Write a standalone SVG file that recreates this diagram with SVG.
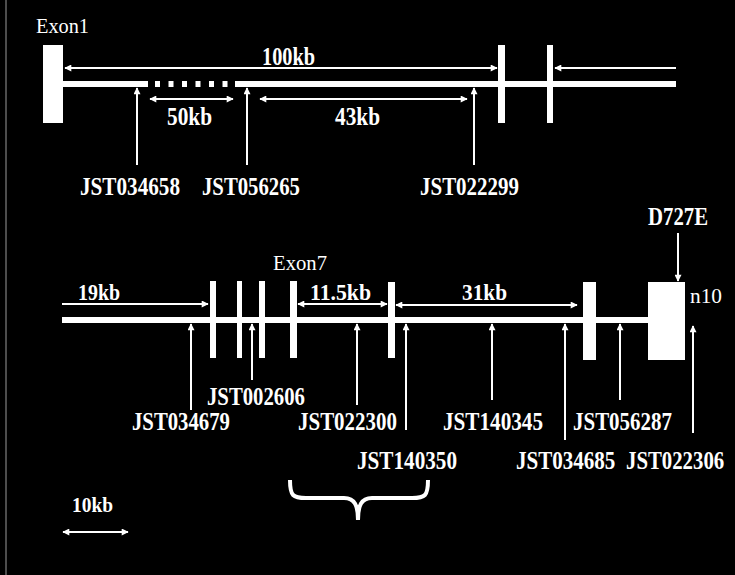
<svg xmlns="http://www.w3.org/2000/svg" width="735" height="575" viewBox="0 0 735 575">
<defs>
<style>
.b{font-family:"Liberation Serif","Times New Roman",serif;font-weight:bold;fill:#fff;font-size:26px}
.m{font-size:23px}
.s{font-size:22px}
.r{font-family:"Liberation Serif","Times New Roman",serif;font-weight:normal;fill:#fff;font-size:22px}
.dim{stroke:#fff;stroke-width:2;fill:none}
.ex{fill:#fff}
</style>
<marker id="ah" viewBox="0 0 10 10" refX="9" refY="5" markerWidth="8" markerHeight="7" markerUnits="userSpaceOnUse" orient="auto-start-reverse">
<path d="M0,0 L10,5 L0,10 Z" fill="#fff"/>
</marker>
</defs>
<rect x="0" y="0" width="735" height="575" fill="#000"/>
<line x1="6" y1="0" x2="6" y2="575" stroke="#9a9a9a" stroke-width="1"/>

<g id="top-gene">
<rect class="ex" x="63" y="81" width="85" height="6"/>
<line x1="155" y1="84" x2="232" y2="84" stroke="#fff" stroke-width="6" stroke-dasharray="5 8.5"/>
<rect class="ex" x="235" y="81" width="441" height="6"/>
<rect id="exon1-box" class="ex" x="43" y="45" width="20" height="78"/>
<rect class="ex" x="498" y="45" width="7" height="78"/>
<rect class="ex" x="547" y="45" width="6" height="78"/>
</g>
<g id="bottom-gene">
<rect class="ex" x="62" y="317" width="586" height="6"/>
<rect class="ex" x="210" y="281" width="6" height="77"/>
<rect class="ex" x="237" y="281" width="5" height="77"/>
<rect class="ex" x="259" y="281" width="6" height="77"/>
<rect class="ex" x="290" y="281" width="7" height="77"/>
<rect class="ex" x="388" y="282" width="7" height="76"/>
<rect class="ex" x="583" y="282" width="13" height="78"/>
<rect class="ex" x="648" y="282" width="37" height="78"/>
</g>

<g id="connectors">
<line class="dim" x1="65" y1="68" x2="497" y2="68" marker-start="url(#ah)" marker-end="url(#ah)"/>
<line class="dim" x1="555" y1="68" x2="676" y2="68" marker-start="url(#ah)"/>
<line class="dim" x1="150" y1="99" x2="233" y2="99" marker-start="url(#ah)" marker-end="url(#ah)"/>
<line class="dim" x1="260" y1="99" x2="467" y2="99" marker-start="url(#ah)" marker-end="url(#ah)"/>
<line class="dim" x1="137" y1="165" x2="137" y2="88" marker-end="url(#ah)"/>
<line class="dim" x1="247" y1="165" x2="247" y2="88" marker-end="url(#ah)"/>
<line class="dim" x1="474" y1="165" x2="474" y2="88" marker-end="url(#ah)"/>

<line class="dim" x1="62" y1="304" x2="208" y2="304" marker-end="url(#ah)"/>
<line class="dim" x1="298" y1="304" x2="387" y2="304" marker-start="url(#ah)" marker-end="url(#ah)"/>
<line class="dim" x1="396" y1="305" x2="577" y2="305" marker-start="url(#ah)" marker-end="url(#ah)"/>
<line class="dim" x1="678" y1="233" x2="678" y2="281" marker-end="url(#ah)"/>

<line class="dim" x1="191" y1="410" x2="191" y2="324" marker-end="url(#ah)"/>
<line class="dim" x1="252" y1="380" x2="252" y2="324" marker-end="url(#ah)"/>
<line class="dim" x1="357" y1="405" x2="357" y2="324" marker-end="url(#ah)"/>
<line class="dim" x1="406" y1="430" x2="406" y2="324" marker-end="url(#ah)"/>
<line class="dim" x1="492" y1="400" x2="492" y2="324" marker-end="url(#ah)"/>
<line class="dim" x1="565" y1="440" x2="565" y2="324" marker-end="url(#ah)"/>
<line class="dim" x1="620" y1="400" x2="620" y2="324" marker-end="url(#ah)"/>
<line class="dim" x1="693" y1="433" x2="693" y2="326" marker-end="url(#ah)"/>

<path d="M290,480 C290,496 293,498 306,498 L344,498 C355,498 358,506 358,520 C358,506 361,498 372,498 L412,498 C425,498 428,496 428,480" stroke="#fff" stroke-width="4" fill="none"/>
<line class="dim" x1="63" y1="532" x2="128" y2="532" marker-start="url(#ah)" marker-end="url(#ah)"/>
</g>

<g id="labels">
<text class="r" x="36" y="33" textLength="53" lengthAdjust="spacingAndGlyphs">Exon1</text>
<text class="b" x="262" y="65" textLength="53" lengthAdjust="spacingAndGlyphs">100kb</text>
<text class="b" x="167" y="125" textLength="45" lengthAdjust="spacingAndGlyphs">50kb</text>
<text class="b" x="335" y="125" textLength="45" lengthAdjust="spacingAndGlyphs">43kb</text>
<text class="b" x="80" y="195" textLength="100" lengthAdjust="spacingAndGlyphs">JST034658</text>
<text class="b" x="202" y="195" textLength="98" lengthAdjust="spacingAndGlyphs">JST056265</text>
<text class="b" x="420" y="195" textLength="99" lengthAdjust="spacingAndGlyphs">JST022299</text>
<text class="b" x="648" y="225" textLength="60" lengthAdjust="spacingAndGlyphs">D727E</text>
<text class="r" x="273" y="270" textLength="54" lengthAdjust="spacingAndGlyphs">Exon7</text>
<text class="b m" x="78" y="300" textLength="42" lengthAdjust="spacingAndGlyphs">19kb</text>
<text class="b m" x="310" y="300" textLength="61" lengthAdjust="spacingAndGlyphs">11.5kb</text>
<text class="b m" x="462" y="300" textLength="45" lengthAdjust="spacingAndGlyphs">31kb</text>
<text class="r m" x="690" y="303" textLength="32" lengthAdjust="spacingAndGlyphs">n10</text>
<text class="b" x="207" y="405" textLength="98" lengthAdjust="spacingAndGlyphs">JST002606</text>
<text class="b" x="132" y="430" textLength="98" lengthAdjust="spacingAndGlyphs">JST034679</text>
<text class="b" x="298" y="430" textLength="99" lengthAdjust="spacingAndGlyphs">JST022300</text>
<text class="b" x="443" y="430" textLength="100" lengthAdjust="spacingAndGlyphs">JST140345</text>
<text class="b" x="573" y="430" textLength="99" lengthAdjust="spacingAndGlyphs">JST056287</text>
<text class="b" x="357" y="469" textLength="100" lengthAdjust="spacingAndGlyphs">JST140350</text>
<text class="b" transform="translate(516,469) scale(0.81,1)" x="0" y="0">JST034685</text>
<text class="b" transform="translate(626,469) scale(0.80,1)" x="0" y="0">JST022306</text>
<text class="b s" x="72" y="512" textLength="41" lengthAdjust="spacingAndGlyphs">10kb</text>
</g>
</svg>
